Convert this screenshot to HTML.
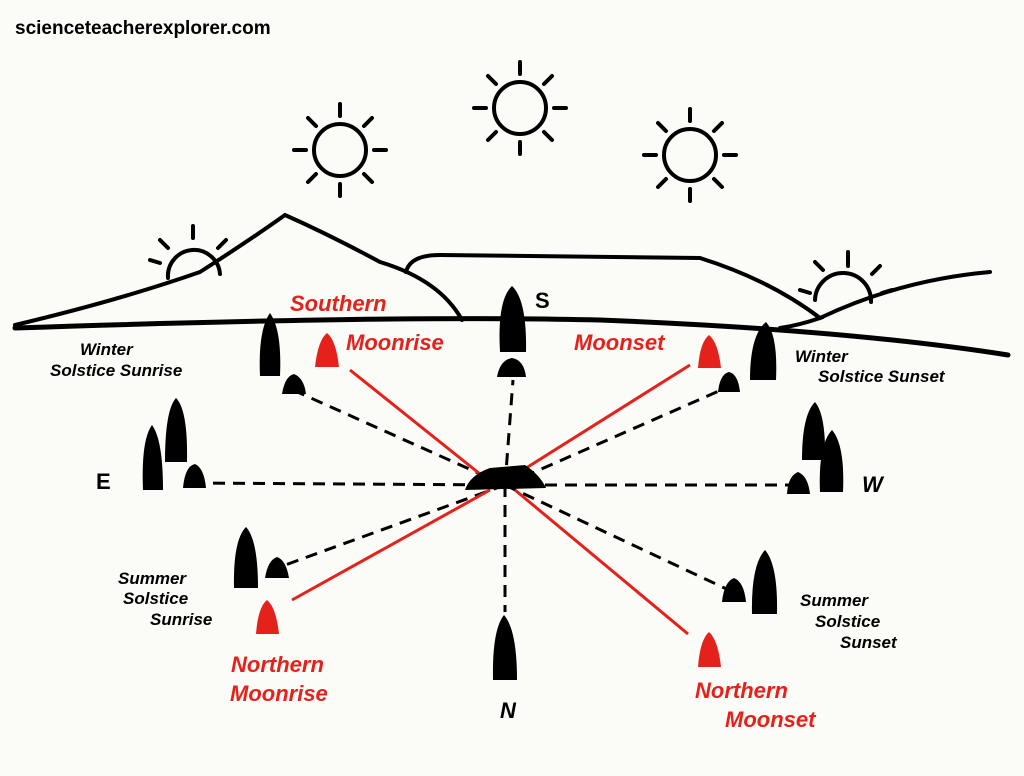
<!DOCTYPE html>
<html><head><style>
body{margin:0;background:#fbfbf8;}
svg{display:block}
.l{font-family:"Liberation Sans",sans-serif;font-style:italic;font-weight:bold;}
</style></head><body>
<svg width="1024" height="776" viewBox="0 0 1024 776" xmlns="http://www.w3.org/2000/svg">
<rect width="1024" height="776" fill="#fbfbf8"/>
<text x="15" y="34" font-family="Liberation Sans,sans-serif" font-weight="bold" font-size="19" fill="#000">scienceteacherexplorer.com</text>
<g stroke="#000" stroke-width="4" fill="none" stroke-linecap="round">
<circle cx="340" cy="150" r="26"/>
<circle cx="520" cy="108" r="26"/>
<circle cx="690" cy="155" r="26"/>
<path d="M340 104v12M340 184v12M294 150h12M374 150h12M308 118l8 8M364 174l8 8M372 118l-8 8M316 174l-8 8"/>
<path d="M520 62v12M520 142v12M474 108h12M554 108h12M488 76l8 8M544 132l8 8M552 76l-8 8M496 132l-8 8"/>
<path d="M690 109v12M690 189v12M644 155h12M724 155h12M658 123l8 8M714 179l8 8M722 123l-8 8M666 179l-8 8"/>
<path d="M168 278a26 26 0 0 1 52 -4"/>
<path d="M193 226v12M160 240l8 8M226 240l-8 8M150 260l10 3"/>
<path d="M815 300a28 28 0 0 1 56 2"/>
<path d="M848 252v14M815 262l8 8M880 266l-8 8M800 290l10 3M892 290l-10 3"/>
<path d="M15 325 Q120 300 200 272 Q250 240 285 215 Q330 235 380 262 Q440 280 462 320"/>
<path d="M406 272 Q410 255 440 255 L700 258 Q770 280 820 318 Q800 325 780 328"/>
<path d="M820 318 Q900 280 990 272"/>
<path d="M15 328 Q400 315 600 320 Q850 330 1008 355" stroke-width="5"/>
</g>
<g stroke="#000" stroke-width="3" stroke-dasharray="12 8" fill="none">
<path d="M505 485 L513 380"/>
<path d="M505 485 L505 612"/>
<path d="M505 485 L195 483"/>
<path d="M505 485 L800 485"/>
<path d="M505 485 L293 390"/>
<path d="M505 485 L728 387"/>
<path d="M505 485 L277 568"/>
<path d="M505 485 L733 592"/>
</g>
<g stroke="#e4221b" stroke-width="3" fill="none">
<path d="M490 482 L350 370"/>
<path d="M515 475 L690 365"/>
<path d="M490 490 L292 600"/>
<path d="M515 490 L688 634"/>
</g>
<path d="M465 490 Q470 475 490 468 L525 465 Q540 475 546 488 Z" fill="#000"/>
<g fill="#000">
<path d="M500 352 Q497 300 512 286 Q527 300 526 352 Z"/>
<path d="M497 377 Q500 360 512 358 Q524 360 526 377 Z"/>
<path d="M260 376 Q258 330 270 313 Q282 330 280 376 Z"/>
<path d="M282 394 Q285 376 294 374 Q304 378 306 394 Z"/>
<path d="M750 380 Q750 335 766 322 Q778 335 776 380 Z"/>
<path d="M718 392 Q720 374 729 372 Q738 374 740 392 Z"/>
<path d="M143 490 Q141 440 152 425 Q163 440 163 490 Z"/>
<path d="M165 462 Q165 410 176 398 Q188 410 187 462 Z"/>
<path d="M183 488 Q185 466 195 464 Q204 468 206 488 Z"/>
<path d="M802 460 Q802 415 815 402 Q826 415 825 460 Z"/>
<path d="M820 492 Q818 445 832 430 Q845 445 843 492 Z"/>
<path d="M787 494 Q788 476 798 472 Q808 476 810 494 Z"/>
<path d="M234 588 Q233 540 246 527 Q258 540 258 588 Z"/>
<path d="M265 578 Q268 560 277 557 Q286 560 289 578 Z"/>
<path d="M752 614 Q751 565 765 550 Q778 565 777 614 Z"/>
<path d="M722 602 Q724 582 734 578 Q744 582 746 602 Z"/>
<path d="M493 680 Q492 630 504 615 Q517 630 517 680 Z"/>
</g>
<g fill="#e4221b">
<path d="M315 367 Q318 340 327 333 Q336 340 339 367 Z"/>
<path d="M698 368 Q700 342 709 335 Q718 342 721 368 Z"/>
<path d="M256 634 Q258 607 267 600 Q276 607 279 634 Z"/>
<path d="M698 667 Q700 640 709 632 Q718 640 721 667 Z"/>
</g>
<g class="l" fill="#000" font-size="17">
<text x="535" y="308" font-size="22" font-style="normal">S</text>
<text x="96" y="489" font-size="22" font-style="normal">E</text>
<text x="862" y="492" font-size="22">W</text>
<text x="500" y="718" font-size="22">N</text>
<text x="80" y="355">Winter</text>
<text x="50" y="376">Solstice  Sunrise</text>
<text x="795" y="362">Winter</text>
<text x="818" y="382">Solstice  Sunset</text>
<text x="118" y="584">Summer</text>
<text x="123" y="604">Solstice</text>
<text x="150" y="625">Sunrise</text>
<text x="800" y="606">Summer</text>
<text x="815" y="627">Solstice</text>
<text x="840" y="648">Sunset</text>
</g>
<g class="l" fill="#e4221b" font-size="22">
<text x="290" y="311">Southern</text>
<text x="346" y="350">Moonrise</text>
<text x="574" y="350">Moonset</text>
<text x="231" y="672">Northern</text>
<text x="230" y="701">Moonrise</text>
<text x="695" y="698">Northern</text>
<text x="725" y="727">Moonset</text>
</g>
</svg>
</body></html>
